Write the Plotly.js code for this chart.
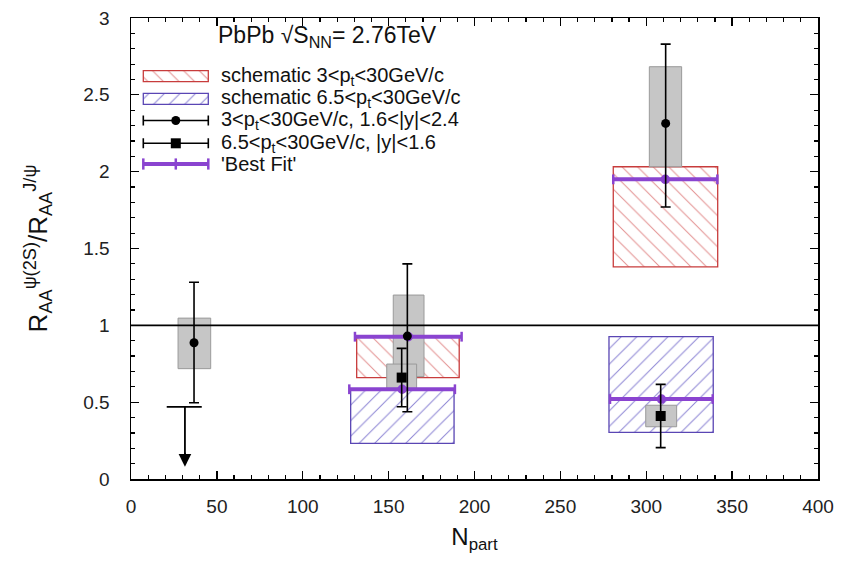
<!DOCTYPE html>
<html>
<head>
<meta charset="utf-8">
<script src="https://cdn.plot.ly/plotly-3.0.1.min.js"></script>
<style>html,body{margin:0;padding:0;background:#fff;}#chart{width:841px;height:562px;}</style>
</head>
<body>
<div id="chart"></div>
<script>
// ---- data ----
const xTickVals = [0, 50, 100, 150, 200, 250, 300, 350, 400];
const yTickVals = [0, 0.5, 1, 1.5, 2, 2.5, 3];

// 3<pt<30 GeV/c, 1.6<|y|<2.4 (circles)
const nCirc = [36.7, 160.9, 311.3];
const rCirc = [0.887, 0.93, 2.314];
const rCircHi = [1.28, 1.40, 2.83];
const rCircLo = [0.496, 0.438, 1.77];
// systematic boxes for circles
const sysCLeft = [27.4, 152.7, 301.8];
const sysCRight = [46.4, 170.6, 320.6];
const sysCLo = [0.718, 0.666, 2.032];
const sysCHi = [1.047, 1.197, 2.683];

// 6.5<pt<30 GeV/c, |y|<1.6 (squares)
const nSq = [157.6, 308.4];
const rSq = [0.66, 0.41];
const rSqHi = [0.85, 0.616];
const rSqLo = [0.47, 0.204];
const sysSLeft = [148.9, 299.7];
const sysSRight = [166.3, 317.7];
const sysSLo = [0.59, 0.34];
const sysSHi = [0.748, 0.48];

// upper limit (most peripheral, 6.5<pt<30)
const ulN = [31.4];
const ulLeft = [20.8];
const ulRight = [41.2];
const ulR = [0.47];
const ulTip = [0.08];

// schematic bands
const sch3Left = [131.4, 280.8];
const sch3Right = [191.1, 341.6];
const sch3Lo = [0.66, 1.381];
const sch3Hi = [0.926, 2.032];
const sch65Left = [127.9, 278.3];
const sch65Right = [188.1, 339.0];
const sch65Lo = [0.232, 0.304];
const sch65Hi = [0.584, 0.926];

// 'Best Fit' lines
const fit3Left = [130.4, 280.8];
const fit3Right = [192.5, 341.4];
const fit3Y = [0.926, 1.95];
const fit65Left = [127.1, 278.9];
const fit65Right = [188.6, 338.7];
const fit65Y = [0.584, 0.52];

const refLine = 1;

const legendLabels = [
  'schematic 3&lt;p<sub>t</sub>&lt;30GeV/c',
  'schematic 6.5&lt;p<sub>t</sub>&lt;30GeV/c',
  '3&lt;p<sub>t</sub>&lt;30GeV/c, 1.6&lt;|y|&lt;2.4',
  '6.5&lt;p<sub>t</sub>&lt;30GeV/c, |y|&lt;1.6',
  "'Best Fit'"
];
const plotTitle = 'PbPb √S<sub>NN</sub>= 2.76TeV';

// ---- styles ----
const RED = '#c83c3c', RED_H = '#e39090';
const BLUE = '#5a46b4', BLUE_H = '#8c84d4';
const PURPLE = '#8a44d0';
const GRAY = '#c6c6c6', GRAY_L = '#9a9a9a';
const FONT = 'Liberation Sans, Arial, Helvetica, sans-serif';

function boxes(left, right, lo, hi, marker, axes) {
  const t = {
    type: 'bar',
    x: left.map((l, i) => (l + right[i]) / 2),
    width: left.map((l, i) => right[i] - l),
    base: lo.slice(),
    y: lo.map((l, i) => hi[i] - l),
    marker: marker,
    showlegend: false,
    hoverinfo: 'skip'
  };
  if (axes) { t.xaxis = axes[0]; t.yaxis = axes[1]; }
  return t;
}
function hatch(shape, line, fg) {
  return {
    color: 'white',
    line: {color: line, width: 1.3},
    pattern: {shape: shape, fgcolor: fg, bgcolor: 'white', size: 11, solidity: 0.09, fillmode: 'replace'}
  };
}
const grayMarker = {color: GRAY, line: {color: GRAY_L, width: 1}};

function fitLines(left, right, yv) {
  const xs = [], ys = [], sym = [];
  left.forEach((l, i) => {
    xs.push(l, (l + right[i]) / 2, right[i], null);
    ys.push(yv[i], yv[i], yv[i], null);
    sym.push('line-ns', 'circle', 'line-ns', 'circle');
  });
  return {
    type: 'scatter', mode: 'lines+markers', x: xs, y: ys,
    line: {color: PURPLE, width: 4},
    marker: {symbol: sym, size: 7, color: PURPLE, line: {color: PURPLE, width: 2.5}},
    showlegend: false, hoverinfo: 'skip', connectgaps: false
  };
}
function points(xv, yv, hi, lo, symbol, size) {
  return {
    type: 'scatter', mode: 'markers', x: xv, y: yv,
    marker: {symbol: symbol, size: size, color: 'black'},
    error_y: {type: 'data', symmetric: false,
      array: yv.map((v, i) => hi[i] - v),
      arrayminus: yv.map((v, i) => v - lo[i]),
      color: 'black', thickness: 1.6, width: 5},
    showlegend: false, hoverinfo: 'skip'
  };
}

const traces = [
  boxes(sch3Left, sch3Right, sch3Lo, sch3Hi, hatch('\\', RED, RED_H)),
  boxes(sch65Left, sch65Right, sch65Lo, sch65Hi, hatch('/', BLUE, BLUE_H)),
  boxes(sysCLeft, sysCRight, sysCLo, sysCHi, grayMarker),
  boxes(sysSLeft, sysSRight, sysSLo, sysSHi, grayMarker),
  fitLines(fit3Left, fit3Right, fit3Y),
  fitLines(fit65Left, fit65Right, fit65Y),
  {
    type: 'scatter', mode: 'lines',
    x: [ulLeft[0], ulRight[0], null, ulN[0], ulN[0]],
    y: [ulR[0], ulR[0], null, ulR[0], ulTip[0] + 0.06],
    line: {color: 'black', width: 1.8}, showlegend: false, hoverinfo: 'skip'
  },
  points(nCirc, rCirc, rCircHi, rCircLo, 'circle', 9),
  points(nSq, rSq, rSqHi, rSqLo, 'square', 10)
];

// ---- legend drawn on an overlay axis pair measured in pixels ----
const LX = ['x2', 'y2'];
const swL = 143.3, swR = 208.3, swC = (swL + swR) / 2;
const rowY = [76.2, 98.8, 120.5, 143.3, 164];
traces.push(boxes([swL], [swR], [rowY[0] - 5.5], [rowY[0] + 5.5], hatch('\\', RED, RED_H), LX));
traces.push(boxes([swL], [swR], [rowY[1] - 5.5], [rowY[1] + 5.5], hatch('/', BLUE, BLUE_H), LX));
[['circle', 9, rowY[2]], ['square', 10, rowY[3]]].forEach(s => {
  traces.push({
    type: 'scatter', mode: 'markers', x: [swC], y: [s[2]], xaxis: 'x2', yaxis: 'y2',
    marker: {symbol: s[0], size: s[1], color: 'black'},
    error_x: {type: 'data', array: [(swR - swL) / 2], color: 'black', thickness: 1.6, width: 5},
    showlegend: false, hoverinfo: 'skip'
  });
});
traces.push({
  type: 'scatter', mode: 'lines+markers', x: [swL, swC, swR], y: [rowY[4], rowY[4], rowY[4]],
  xaxis: 'x2', yaxis: 'y2',
  line: {color: PURPLE, width: 4},
  marker: {symbol: ['line-ns', 'line-ns', 'line-ns'], size: 8, color: PURPLE, line: {color: PURPLE, width: 2.5}},
  showlegend: false, hoverinfo: 'skip'
});

const annotations = legendLabels.map((t, i) => ({
  xref: 'x2', yref: 'y2', x: 219, y: rowY[i], text: t, showarrow: false,
  xanchor: 'left', yanchor: 'middle', font: {family: FONT, size: 20, color: '#111'}
}));
annotations.push({
  xref: 'x2', yref: 'y2', x: 216, y: 36, text: plotTitle, showarrow: false,
  xanchor: 'left', yanchor: 'middle', font: {family: FONT, size: 23, color: '#111'}
});
annotations.push({
  xref: 'x', yref: 'y', x: ulN[0], y: ulTip[0], ax: ulN[0], ay: ulTip[0] + 0.1,
  axref: 'x', ayref: 'y', text: '', showarrow: true, arrowhead: 2, arrowsize: 1.4,
  arrowwidth: 1.8, arrowcolor: 'black', standoff: 0, startstandoff: 0
});

const axisCommon = {
  showline: true, linecolor: 'black', linewidth: 1.5, mirror: 'ticks',
  ticks: 'inside', ticklen: 8, tickwidth: 1.3, tickcolor: 'black',
  showgrid: false, zeroline: false, fixedrange: true,
  tickfont: {family: FONT, size: 19, color: '#222'}
};

const layout = {
  width: 841, height: 562,
  margin: {l: 131, r: 23, t: 18, b: 83},
  paper_bgcolor: 'white', plot_bgcolor: 'white',
  barmode: 'overlay', bargap: 0, showlegend: false,
  font: {family: FONT},
  xaxis: Object.assign({}, axisCommon, {
    range: [0, 400], tickmode: 'array', tickvals: xTickVals,
    ticklabelstandoff: 10,
    minor: {dtick: 10, ticks: 'inside', ticklen: 4, tickwidth: 1.2, tickcolor: 'black'},
    title: {text: 'N<sub>part</sub>', font: {family: FONT, size: 24, color: '#111'}, standoff: 12}
  }),
  yaxis: Object.assign({}, axisCommon, {
    range: [0, 3], tickmode: 'array', tickvals: yTickVals,
    ticklabelstandoff: 16,
    minor: {dtick: 0.1, ticks: 'inside', ticklen: 4, tickwidth: 1.2, tickcolor: 'black'},
    title: {text: 'R<sub>AA</sub><sup>ψ(2S)</sup>/R<sub>AA</sub><sup>J/ψ</sup>', font: {family: FONT, size: 26, color: '#111'}, standoff: 28}
  }),
  xaxis2: {overlaying: 'x', anchor: 'y2', range: [131, 818], visible: false, fixedrange: true},
  yaxis2: {overlaying: 'y', anchor: 'x2', range: [479, 18], visible: false, fixedrange: true},
  shapes: [{
    type: 'line', xref: 'paper', yref: 'y', x0: 0, x1: 1, y0: refLine, y1: refLine,
    line: {color: 'black', width: 1.6}, layer: 'above'
  }],
  annotations: annotations
};

Plotly.newPlot('chart', traces, layout, {staticPlot: true, displayModeBar: false});
</script>
</body>
</html>
